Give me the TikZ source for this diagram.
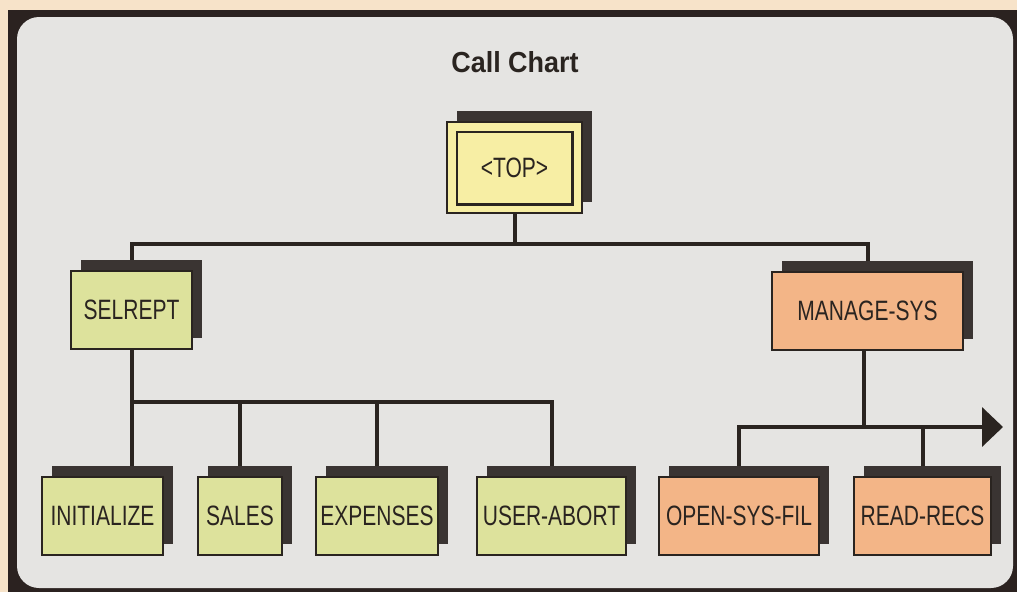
\documentclass[tikz,border=0pt]{standalone}
\usepackage{fontspec}
\usetikzlibrary{arrows.meta,shadows,backgrounds}
\newfontfamily\chartfont[FakeStretch=0.75]{Liberation Sans}
\newfontfamily\headfont[FakeStretch=0.93]{Liberation Sans}
\definecolor{peach}{HTML}{F7E3C9}
\definecolor{framecol}{HTML}{2B2220}
\definecolor{panel}{HTML}{E5E4E2}
\definecolor{inkcol}{HTML}{2A2420}
\definecolor{shadecol}{HTML}{3A3432}
\definecolor{greenbox}{HTML}{DDE29C}
\definecolor{yellowbox}{HTML}{F7EEA4}
\definecolor{orangebox}{HTML}{F3B587}
\tikzset{
  module/.style={draw=inkcol, line width=2.5pt, inner sep=0pt, minimum height=78pt,
    text=inkcol, font=\chartfont\fontsize{28}{32}\selectfont,
    copy shadow={shadow xshift=10pt, shadow yshift=11pt, fill=shadecol, draw=none}},
  greenmod/.style={module, fill=greenbox},
  orangemod/.style={module, fill=orangebox},
  wire/.style={draw=inkcol, line width=4pt}
}
\begin{document}
\begin{tikzpicture}[x=1pt, y=-1pt]
\useasboundingbox (0,0) rectangle (1017,592);
% title
\node[text=inkcol, font=\headfont\bfseries\fontsize{29}{32}\selectfont] (title) at (515,62) {Call Chart};
% top level
\node[module, fill=yellowbox, minimum width=135pt, minimum height=91pt] (top) at (514.5,167.5) {<TOP>};
\draw[draw=inkcol, line width=2.5pt] ([shift={(11pt,-11pt)}]top.north west) rectangle ([shift={(-11pt,10pt)}]top.south east);
% second level
\node[greenmod, minimum width=121pt] (selrept) at (131.5,310) {SELREPT};
\node[orangemod, minimum width=191pt] (managesys) at (867.5,311) {MANAGE-SYS};
% third level
\node[greenmod, minimum width=121pt] (initialize) at (102.5,516) {INITIALIZE};
\node[greenmod, minimum width=84pt] (sales) at (240,516) {SALES};
\node[greenmod, minimum width=122pt] (expenses) at (377,516) {EXPENSES};
\node[greenmod, minimum width=149pt] (userabort) at (551.5,516) {USER-ABORT};
\node[orangemod, minimum width=160pt] (opensysfil) at (739,516) {OPEN-SYS-FIL};
\node[orangemod, minimum width=137pt] (readrecs) at (922.5,516) {READ-RECS};
% bus points
\coordinate (busA) at (514.5,244);
\coordinate (busB) at (131.5,402);
\coordinate (busC) at (864,427);
\coordinate (arrowend) at (1003,427);
\begin{pgfonlayer}{background}
\fill[peach] (0,0) rectangle (1017,592);
\fill[framecol] (8,10) rectangle (1017,592);
\fill[panel, rounded corners=22pt] (17,17) rectangle (1013,588);
\draw[wire] (top.south) -- (busA);
\draw[wire] (selrept.north) |- (busA) -| (managesys.north);
\draw[wire] (selrept.south) -- (initialize.north -| selrept.south);
\draw[wire] (busB) -| (sales.north);
\draw[wire] (busB) -| (expenses.north);
\draw[wire] (busB) -| (userabort.north);
\draw[wire] (managesys.south -| busC) -- (busC);
\draw[wire, -{Triangle[length=21pt, width=39pt]}] (opensysfil.north) |- (arrowend);
\draw[wire] (readrecs.north) -- (readrecs.north |- busC);
\end{pgfonlayer}
\end{tikzpicture}
\end{document}
